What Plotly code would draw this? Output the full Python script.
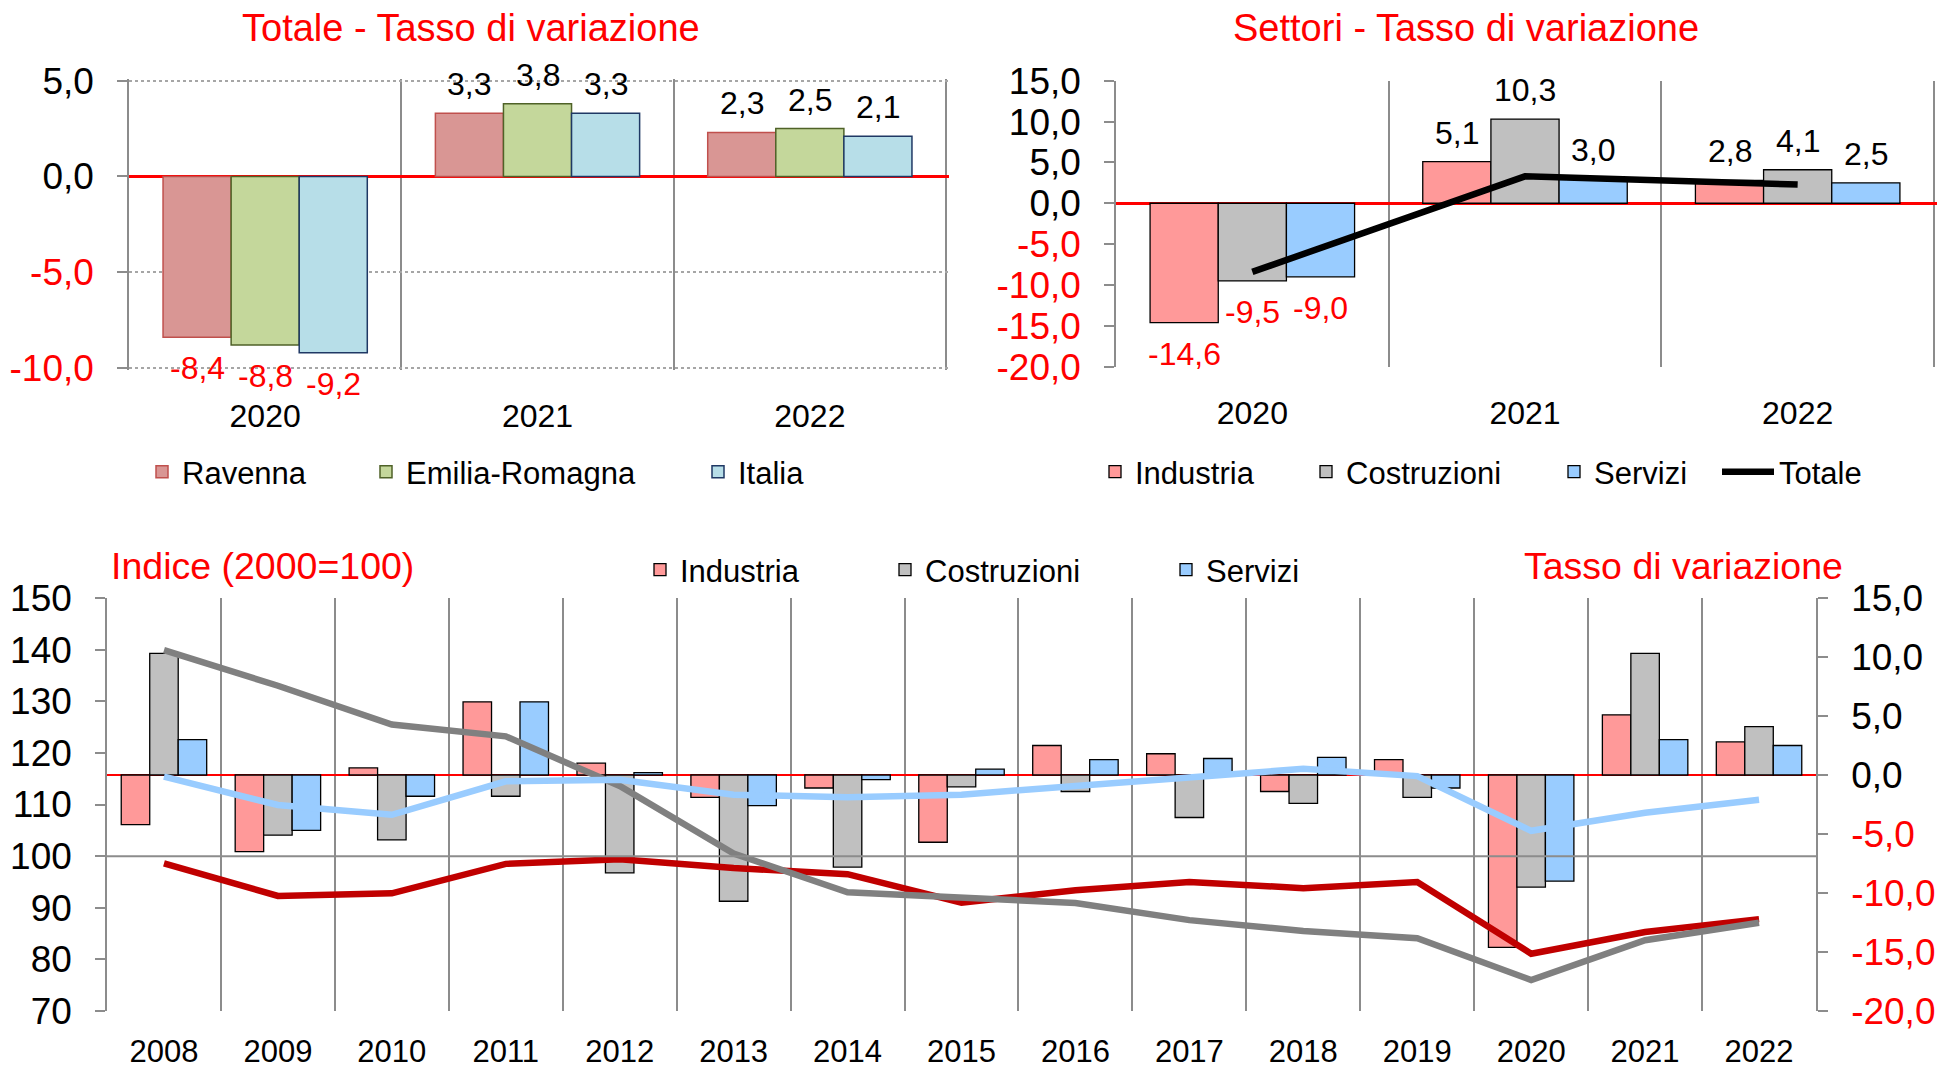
import plotly.graph_objects as go

# ---------------- data ----------------
years_top = ["2020", "2021", "2022"]
ravenna = [-8.4, 3.3, 2.3]
emilia = [-8.8, 3.8, 2.5]
italia = [-9.2, 3.3, 2.1]

ind_top = [-14.6, 5.1, 2.8]
cos_top = [-9.5, 10.3, 4.1]
ser_top = [-9.0, 3.0, 2.5]
tot_top = [-8.4, 3.3, 2.3]

years = [str(y) for y in range(2008, 2023)]
ind_rate = [-4.2, -6.5, 0.6, 6.2, 1.0, -1.9, -1.1, -5.7, 2.5, 1.8, -1.4, 1.3, -14.6, 5.1, 2.8]
cos_rate = [10.3, -5.1, -5.5, -1.8, -8.3, -10.7, -7.8, -1.0, -1.4, -3.6, -2.4, -1.9, -9.5, 10.3, 4.1]
ser_rate = [3.0, -4.7, -1.8, 6.2, 0.2, -2.6, -0.4, 0.5, 1.3, 1.4, 1.5, -1.1, -9.0, 3.0, 2.5]
ind_idx = [98.6, 92.3, 92.8, 98.5, 99.4, 97.7, 96.5, 91.0, 93.4, 95.0, 93.8, 95.0, 81.1, 85.3, 87.8]
cos_idx = [139.9, 133.0, 125.5, 123.2, 113.6, 100.5, 93.0, 92.0, 90.9, 87.6, 85.5, 84.1, 76.0, 83.7, 87.1]
ser_idx = [115.4, 109.9, 108.0, 114.5, 114.8, 111.9, 111.4, 111.9, 113.6, 115.1, 116.9, 115.5, 104.9, 108.4, 110.9]

ticks_tl = [-10, -5, 0, 5]
ticks_rate = [-20, -15, -10, -5, 0, 5, 10, 15]
ticks_idx = [70, 80, 90, 100, 110, 120, 130, 140, 150]

# ---------------- helpers ----------------
W, H = 1939, 1073
FONT = "Liberation Sans, Arial, sans-serif"
AX = "#8c8c8c"
GRID = "#8c8c8c"
RED = "#ff0000"


def fmt(v):
    return f"{v:.1f}".replace(".", ",")


def colored(vals):
    return [f"<span style='color:{RED}'>{fmt(v)}</span>" if v < 0 else fmt(v) for v in vals]


def dx(a, b):
    return [a / W, b / W]


def dy(top, bottom):
    return [1 - bottom / H, 1 - top / H]


BARGAP = 0.25
bw = (1 - BARGAP) / 3
offs = [-bw, 0, bw]

fig = go.Figure()

# ---------------- top-left ----------------
tl = [("Ravenna", ravenna, "#d99694", "#c0504d", "legend"),
      ("Emilia-Romagna", emilia, "#c4d79b", "#4f6228", "legend2"),
      ("Italia", italia, "#b7dee8", "#1f3864", "legend3")]
for name, vals, fill, border, leg in tl:
    fig.add_trace(go.Bar(x=years_top, y=vals, name=name, xaxis="x", yaxis="y",
                         marker=dict(color=fill, line=dict(color=border, width=1.5)),
                         legend=leg))

# ---------------- top-right ----------------
tr = [("Industria", ind_top, "#ff9999", "legend4"),
      ("Costruzioni", cos_top, "#c0c0c0", "legend5"),
      ("Servizi", ser_top, "#99ccff", "legend6")]
for name, vals, fill, leg in tr:
    fig.add_trace(go.Bar(x=years_top, y=vals, name=name, xaxis="x2", yaxis="y2",
                         marker=dict(color=fill, line=dict(color="black", width=1.3)),
                         legend=leg))
fig.add_trace(go.Scatter(x=years_top, y=tot_top, name="Totale", mode="lines",
                         xaxis="x2", yaxis="y2", line=dict(color="black", width=6.5),
                         legend="legend7"))

# ---------------- bottom ----------------
bt = [("Industria", ind_rate, "#ff9999", "legend8"),
      ("Costruzioni", cos_rate, "#c0c0c0", "legend9"),
      ("Servizi", ser_rate, "#99ccff", "legend10")]
for name, vals, fill, leg in bt:
    fig.add_trace(go.Bar(x=years, y=vals, name=name, xaxis="x3", yaxis="y3",
                         marker=dict(color=fill, line=dict(color="black", width=1.3)),
                         legend=leg))
for name, vals, col in [("Industria (indice)", ind_idx, "#c00000"),
                        ("Costruzioni (indice)", cos_idx, "#808080"),
                        ("Servizi (indice)", ser_idx, "#99ccff")]:
    fig.add_trace(go.Scatter(x=years, y=vals, name=name, mode="lines", xaxis="x3", yaxis="y4",
                             line=dict(color=col, width=6.5), showlegend=False))

# ---------------- data labels ----------------
annotations = []
for series, xr, yr in (([ravenna, emilia, italia], "x", "y"), ([ind_top, cos_top, ser_top], "x2", "y2")):
    for j, vals in enumerate(series):
        for i, v in enumerate(vals):
            annotations.append(dict(x=i + offs[j], y=v, xref=xr, yref=yr, text=fmt(v),
                                    showarrow=False, yshift=29 if v >= 0 else -31,
                                    font=dict(size=32, color="black" if v >= 0 else RED)))

# titles
annotations += [
    dict(text="Totale - Tasso di variazione", x=471 / W, y=1 - 28 / H, xref="paper", yref="paper",
         xanchor="center", yanchor="middle", showarrow=False, font=dict(size=38, color=RED)),
    dict(text="Settori - Tasso di variazione", x=1466 / W, y=1 - 28 / H, xref="paper", yref="paper",
         xanchor="center", yanchor="middle", showarrow=False, font=dict(size=38, color=RED)),
    dict(text="Indice (2000=100)", x=109 / W, y=1 - 566 / H, xref="paper", yref="paper",
         xanchor="left", yanchor="middle", showarrow=False, font=dict(size=37.5, color=RED)),
    dict(text="Tasso di variazione", x=1845 / W, y=1 - 566 / H, xref="paper", yref="paper",
         xanchor="right", yanchor="middle", showarrow=False, font=dict(size=37.5, color=RED)),
]

shapes = [dict(type="line", xref="x3 domain", x0=0, x1=1, yref="y4", y0=100, y1=100,
               line=dict(color=AX, width=2), layer="above")]

# ---------------- axes ----------------
xcommon = dict(type="category", tickson="boundaries", showgrid=True, gridcolor=GRID, gridwidth=1.5,
               ticks="", showline=False, zeroline=False, fixedrange=True)
ycommon = dict(showline=True, linecolor=AX, linewidth=1.5, ticks="outside", ticklen=10,
               tickcolor=AX, tickwidth=1.5, tickfont=dict(size=37, color="black"),
               ticklabelstandoff=16, fixedrange=True)

# top charts: ranges padded slightly so edge gridlines are drawn
TLpx = (368 - 80.7) / 15.0
TRcat = (1934 - 1116) / 3.0
layout_axes = dict(
    xaxis=dict(domain=dx(129, 946 + 0.01 * TRcat), anchor="y", range=[-0.5, 2.51],
               tickfont=dict(size=32, color="black"), ticklabelstandoff=24, **xcommon),
    yaxis=dict(domain=dy(80.7 - 0.1 * TLpx, 368 + 0.1 * TLpx), anchor="x", range=[-10.1, 5.1],
               tickvals=ticks_tl, ticktext=colored(ticks_tl), showgrid=True, gridcolor="#a6a6a6",
               griddash="dot", gridwidth=1.5, zeroline=True, zerolinecolor=RED, zerolinewidth=2.5,
               **ycommon),
    xaxis2=dict(domain=dx(1116, 1934 + 0.01 * TRcat), anchor="y2", range=[-0.5, 2.51],
                tickfont=dict(size=32, color="black"), ticklabelstandoff=24, **xcommon),
    yaxis2=dict(domain=dy(80.7, 366.7), anchor="x2", range=[-20, 15], tickvals=ticks_rate,
                ticktext=colored(ticks_rate), showgrid=False, zeroline=True, zerolinecolor=RED,
                zerolinewidth=2.5, **ycommon),
    xaxis3=dict(domain=dx(107, 1816), anchor="y3", range=[-0.5, 14.5],
                tickfont=dict(size=31, color="black"), ticklabelstandoff=19, **xcommon),
    yaxis3=dict(domain=dy(598, 1011), anchor="x3", side="right", range=[-20, 15],
                tickvals=ticks_rate, ticktext=colored(ticks_rate), showgrid=False,
                zeroline=True, zerolinecolor=RED, zerolinewidth=2, **ycommon),
    yaxis4=dict(overlaying="y3", anchor="x3", side="left", range=[70, 150], tickvals=ticks_idx,
                ticktext=[str(v) for v in ticks_idx], showgrid=False, zeroline=False, **ycommon),
)

# ---------------- legends ----------------
def leg(x_text, y_center, itemwidth=30):
    return dict(x=(x_text - itemwidth - 10) / W, y=1 - y_center / H, xanchor="left", yanchor="middle",
                orientation="h", bgcolor="rgba(0,0,0,0)", font=dict(size=31, color="black", family=FONT),
                itemwidth=itemwidth)

legends = dict(
    legend=leg(182, 472), legend2=leg(406, 472), legend3=leg(738, 472),
    legend4=leg(1135, 472), legend5=leg(1346, 472), legend6=leg(1594, 472),
    legend7=leg(1779, 472, itemwidth=52),
    legend8=leg(680, 570), legend9=leg(925, 570), legend10=leg(1206, 570),
)

fig.update_layout(
    width=W, height=H, margin=dict(l=0, r=0, t=0, b=0, autoexpand=False),
    paper_bgcolor="white", plot_bgcolor="white",
    font=dict(family=FONT, color="black"),
    barmode="group", bargap=BARGAP, bargroupgap=0,
    separators=",.",
    annotations=annotations, shapes=shapes,
    **layout_axes, **legends,
)

fig.write_html("out.html", config={"displayModeBar": False},
               post_script="document.body.style.margin='0';document.body.style.overflow='hidden';")
